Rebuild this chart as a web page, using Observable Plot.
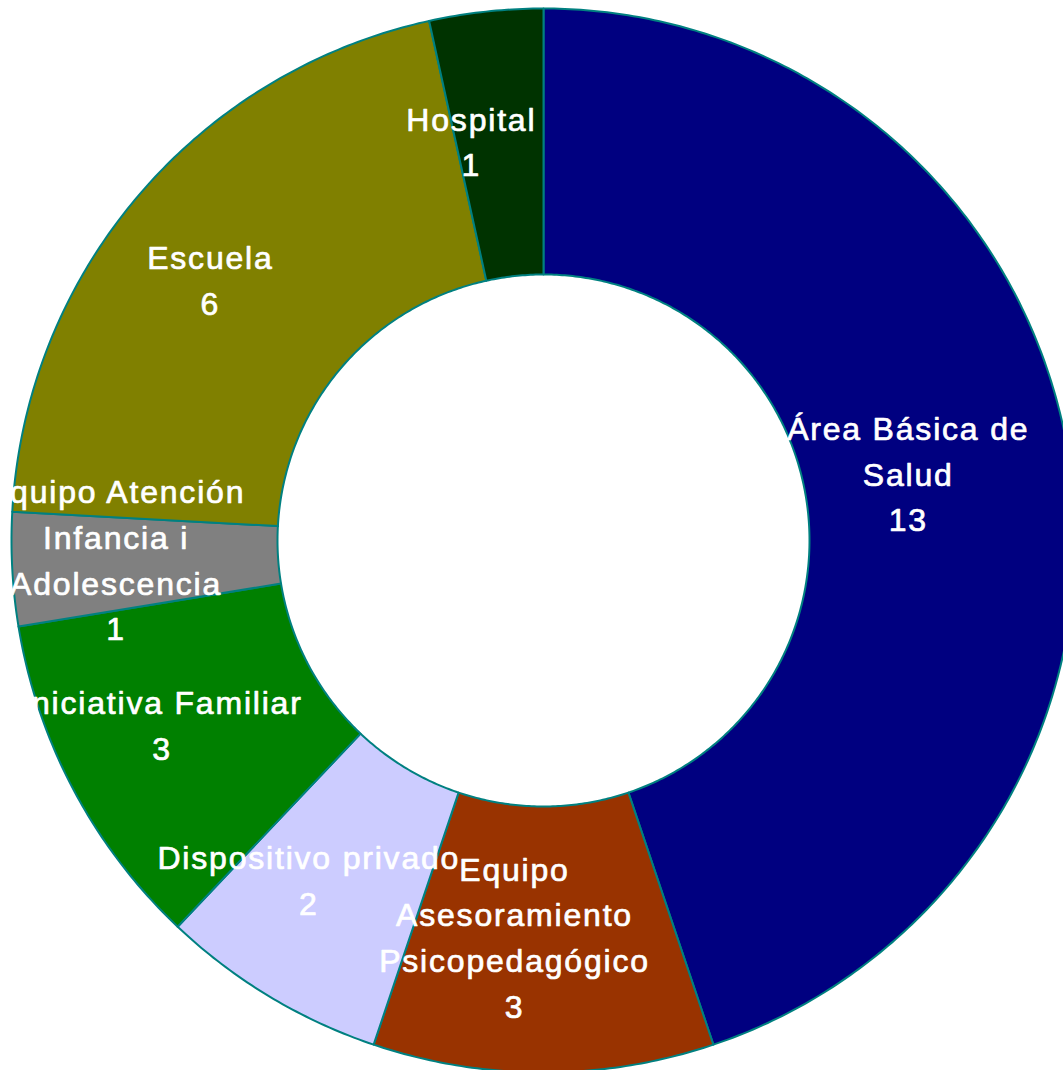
<!DOCTYPE html>
<html>
<head>
<meta charset="utf-8">
<script src="https://cdn.jsdelivr.net/npm/d3@7"></script>
<script src="https://cdn.jsdelivr.net/npm/@observablehq/plot@0.6"></script>
<style>
  html, body { margin: 0; padding: 0; background: #fff; overflow: hidden; }
  #chart svg { display: block; }
  #chart text { letter-spacing: 1.8px; }
</style>
</head>
<body>
<div id="chart"></div>
<script>
const categories = [
  "Área Básica de Salud",
  "Equipo Asesoramiento Psicopedagógico",
  "Dispositivo privado",
  "Iniciativa Familiar",
  "Equipo Atención Infancia i Adolescencia",
  "Escuela",
  "Hospital"
];
const labelTexts = [
  "Área Básica de\nSalud",
  "Equipo\nAsesoramiento\nPsicopedagógico",
  "Dispositivo privado",
  "Iniciativa Familiar",
  "Equipo Atención\nInfancia i\nAdolescencia",
  "Escuela",
  "Hospital"
];
const values = [13, 3, 2, 3, 1, 6, 1];
const colors = ["#000080", "#993300", "#CCCCFF", "#008000", "#808080", "#808000", "#003300"];

const W = 1063, H = 1070;
const innerRatio = 0.5;
const labelRatio = 0.75;

const pie = d3.pie().sort(null).value(d => d.value)
  (categories.map((c, i) => ({ category: c, value: values[i], label: labelTexts[i] })));

// Build polygon vertices for each slice (unit circle, angle clockwise from top)
const pts = [];
for (const a of pie) {
  const n = Math.max(8, Math.ceil((a.endAngle - a.startAngle) / 0.01));
  for (let k = 0; k <= n; k++) {
    const t = a.startAngle + (a.endAngle - a.startAngle) * k / n;
    pts.push({ category: a.data.category, x: Math.sin(t), y: Math.cos(t) });
  }
  for (let k = n; k >= 0; k--) {
    const t = a.startAngle + (a.endAngle - a.startAngle) * k / n;
    pts.push({ category: a.data.category, x: innerRatio * Math.sin(t), y: innerRatio * Math.cos(t) });
  }
}
const labels = pie.map(a => {
  const m = (a.startAngle + a.endAngle) / 2;
  return { text: a.data.label + "\n" + a.data.value, x: labelRatio * Math.sin(m), y: labelRatio * Math.cos(m) };
});

const chart = Plot.plot({
  width: W,
  height: H,
  margin: 0,
  x: { domain: [-1, 1], range: [11, 1075], axis: null },
  y: { domain: [-1, 1], range: [1072, 8], axis: null },
  color: { type: "ordinal", domain: categories, range: colors },
  style: { background: "#fff" },
  marks: [
    Plot.line(pts, {
      x: "x", y: "y", z: "category", fill: "category",
      stroke: "#008080", strokeWidth: 2, curve: "linear-closed"
    }),
    Plot.text(labels, {
      x: "x", y: "y", text: "text", dx: -29, dy: -5,
      fill: "white", stroke: "white", strokeWidth: 0.7,
      fontSize: 32, lineHeight: 1.43,
      fontFamily: "Liberation Sans, Arial, sans-serif"
    })
  ]
});
document.getElementById("chart").appendChild(chart);
</script>
</body>
</html>
